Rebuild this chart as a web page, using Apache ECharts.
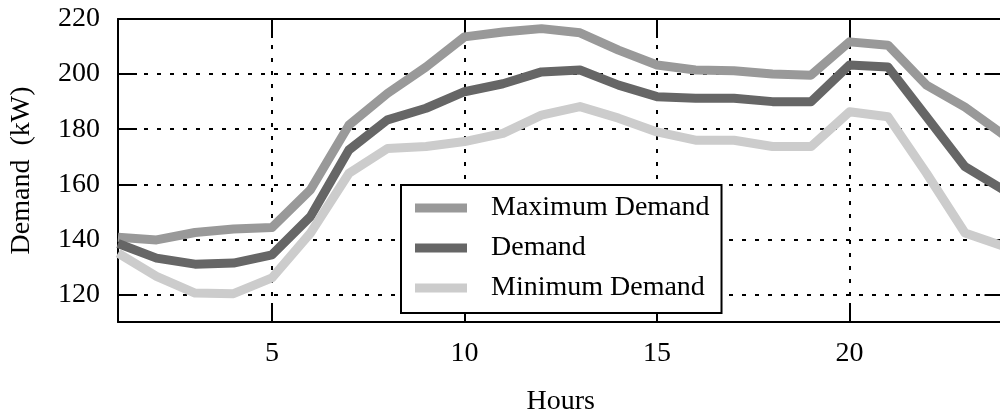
<!DOCTYPE html>
<html>
<head>
<meta charset="utf-8">
<script src="https://cdn.jsdelivr.net/npm/echarts@6/dist/echarts.min.js"></script>
<style>
    html, body { margin: 0; padding: 0; background: #fff; }
    #chart { width: 1000px; height: 416px; }
</style>
</head>
<body>
<div id="chart"></div>
<script>
// hourly values
const hours = [1, 2, 3, 4, 5, 6, 7, 8, 9, 10, 11, 12, 13, 14, 15, 16, 17, 18, 19, 20, 21, 22, 23, 24]
const maxDemand = [140.8, 139.8, 142.5, 143.8, 144.3, 158, 181.5, 193, 202.6, 213.5, 215.3, 216.5, 215, 208.7, 203.3, 201.5, 201.2, 200, 199.6, 211.7, 210.5, 196, 188, 178]
const demand = [138.5, 133.2, 131, 131.4, 134.4, 148.3, 172.5, 183.4, 187.6, 193.6, 196.5, 200.8, 201.5, 196, 191.8, 191.2, 191.2, 190, 190, 203.3, 202.6, 184.5, 166.4, 158]
const minDemand = [135, 126.6, 120.5, 120.3, 126, 142.3, 164, 173, 173.7, 175.5, 178.5, 185.1, 188.2, 184, 179, 176, 176, 173.7, 173.7, 186.3, 184.5, 164, 142.3, 137.5]
const xTicks = [5, 10, 15, 20]
const yTicks = [120, 140, 160, 180, 200, 220]

const font = 'Liberation Serif'
const pairs = vals => hours.map((h, i) => [h, vals[i]])

const tick = vals => ({
    inside: true,
    length: 19,
    customValues: vals,
    lineStyle: { color: '#000', width: 2 }
})
const grid = {
    show: true,
    lineStyle: { color: '#000', width: 2, type: [4, 9] }
}
const axisLine = { show: true, onZero: false, lineStyle: { color: '#000', width: 2 } }

const line = (name, color, vals) => ({
    name: name,
    type: 'line',
    xAxisIndex: 0,
    yAxisIndex: 0,
    showSymbol: false,
    color: color,
    itemStyle: { color: color },
    lineStyle: { color: color, width: 9, join: 'round' },
    data: pairs(vals)
})

const chart = echarts.init(document.getElementById('chart'))
chart.setOption({
    animation: false,
    backgroundColor: '#fff',
    grid: { left: 118, top: 19, right: -3.5, bottom: 94, outerBoundsMode: 'none' },
    legend: {
        orient: 'vertical',
        left: 401,
        top: 185,
        padding: [8, 12, 10, 14],
        backgroundColor: '#fff',
        borderColor: '#000',
        borderWidth: 2,
        borderRadius: 0,
        icon: 'rect',
        itemWidth: 52,
        itemHeight: 9,
        itemGap: 10,
        textStyle: {
            fontFamily: font,
            fontSize: 28,
            lineHeight: 30,
            color: '#000',
            padding: [0, 0, 0, 19]
        },
        data: ['Maximum Demand', 'Demand', 'Minimum Demand']
    },
    xAxis: [
        {
            type: 'value',
            min: 1,
            max: 24,
            name: 'Hours',
            nameLocation: 'middle',
            nameGap: 66,
            nameTextStyle: { fontFamily: font, fontSize: 28, color: '#000' },
            axisLine: axisLine,
            axisTick: tick(xTicks),
            axisLabel: {
                customValues: xTicks,
                margin: 18,
                fontFamily: font,
                fontSize: 28,
                color: '#000'
            },
            splitLine: grid
        },
        {
            type: 'value',
            position: 'top',
            min: 1,
            max: 24,
            axisLine: axisLine,
            axisTick: tick(xTicks),
            axisLabel: { show: false },
            splitLine: { show: false }
        }
    ],
    yAxis: [
        {
            type: 'value',
            min: 110,
            max: 220,
            name: 'Demand  (kW)',
            nameLocation: 'middle',
            nameGap: 82,
            nameTextStyle: { fontFamily: font, fontSize: 28, color: '#000' },
            axisLine: axisLine,
            axisTick: tick(yTicks),
            axisLabel: {
                customValues: yTicks,
                margin: 18,
                fontFamily: font,
                fontSize: 28,
                color: '#000'
            },
            splitLine: grid
        },
        {
            type: 'value',
            position: 'right',
            min: 110,
            max: 220,
            axisLine: axisLine,
            axisTick: tick(yTicks),
            axisLabel: { show: false },
            splitLine: { show: false }
        }
    ],
    series: [
        line('Maximum Demand', '#999999', maxDemand),
        line('Demand', '#666666', demand),
        line('Minimum Demand', '#cccccc', minDemand)
    ]
})
</script>
</body>
</html>
